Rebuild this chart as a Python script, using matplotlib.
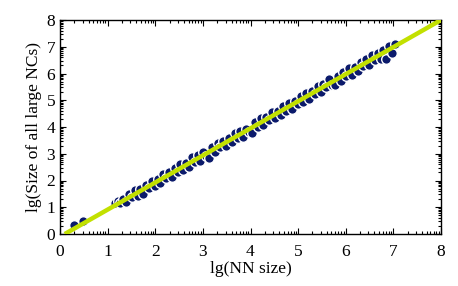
import matplotlib
matplotlib.use("Agg")
import matplotlib.pyplot as plt
import numpy as np

# data
nn_size = [0.30, 0.48,
           1.15, 1.21, 1.27, 1.33, 1.39, 1.45, 1.51, 1.57, 1.63, 1.69, 1.75, 1.81, 1.87, 1.93, 1.99,
           2.05, 2.11, 2.17, 2.23, 2.29, 2.35, 2.41, 2.47, 2.53, 2.59, 2.65, 2.71, 2.77, 2.83, 2.89,
           2.95, 3.01, 3.07, 3.13, 3.19, 3.25, 3.31, 3.37, 3.43, 3.49, 3.55, 3.61, 3.67, 3.73, 3.79,
           3.85, 3.91, 3.97, 4.03, 4.09, 4.15, 4.21, 4.27, 4.33, 4.39, 4.45, 4.51, 4.57, 4.63, 4.69,
           4.75, 4.81, 4.87, 4.93, 4.99, 5.05, 5.11, 5.17, 5.23, 5.29, 5.35, 5.41, 5.47, 5.53, 5.59,
           5.65, 5.71, 5.77, 5.83, 5.89, 5.95, 6.01, 6.07, 6.13, 6.19, 6.25, 6.31, 6.37, 6.43, 6.49,
           6.55, 6.61, 6.67, 6.73, 6.79, 6.85, 6.91, 6.97, 7.03]
nc_size = [0.32, 0.48,
           1.16, 1.24, 1.17, 1.30, 1.21, 1.49, 1.37, 1.64, 1.43, 1.69, 1.51, 1.85, 1.71, 1.99, 1.79,
           2.04, 1.90, 2.26, 2.10, 2.32, 2.12, 2.46, 2.30, 2.61, 2.38, 2.64, 2.52, 2.86, 2.69, 2.95,
           2.73, 3.05, 2.91, 2.85, 3.27, 3.07, 3.41, 3.25, 3.49, 3.29, 3.59, 3.44, 3.77, 3.60, 3.86,
           3.64, 3.94, 3.80, 3.78, 4.18, 4.00, 4.32, 4.08, 4.38, 4.27, 4.56, 4.35, 4.61, 4.43, 4.77,
           4.61, 4.91, 4.69, 4.99, 4.87, 5.17, 4.95, 5.26, 5.04, 5.34, 5.22, 5.52, 5.30, 5.62, 5.48,
           5.78, 5.56, 5.56, 5.90, 5.72, 6.05, 5.89, 6.20, 5.95, 6.25, 6.11, 6.43, 6.27, 6.53, 6.33,
           6.69, 6.49, 6.77, 6.55, 6.88, 6.54, 7.02, 6.76, 7.10]
fit_x = [0.1, 8.0]
fit_y = [0.0, 8.0]
ticks = [0, 1, 2, 3, 4, 5, 6, 7, 8]

plt.rcParams['font.family'] = ['Liberation Serif', 'DejaVu Serif']
fig = plt.figure(figsize=(4.58, 2.86), dpi=100)
ax = fig.add_axes([60/458, (286-234)/286, (441-60)/458, (234-20)/286])

ax.scatter(nn_size, nc_size, s=48, c='#0b1a6b', edgecolors='white', linewidths=1.0, zorder=2)
ax.plot(fit_x, fit_y, color='#c2e000', lw=3.2, zorder=3, solid_capstyle='butt')

ax.set_xlim(0, 8)
ax.set_ylim(0, 8)
ax.set_xticks(ticks)
ax.set_yticks(ticks)
minor = [i + np.log10(k) for i in range(8) for k in range(2, 10)]
ax.set_xticks(minor, minor=True)
ax.set_yticks(minor, minor=True)
ax.tick_params(which='both', direction='in', top=True, right=True, labelsize=12.5, width=0.8)
ax.tick_params(which='major', length=4)
ax.tick_params(which='minor', length=2)
ax.tick_params(axis='x', which='major', pad=7)
for s in ax.spines.values():
    s.set_linewidth(1.0)
ax.set_xlabel('lg(NN size)', fontsize=12.5, labelpad=1)
ax.set_ylabel('lg(Size of all large NCs)', fontsize=12.5, labelpad=3)
fig.savefig('out.png', dpi=100)
